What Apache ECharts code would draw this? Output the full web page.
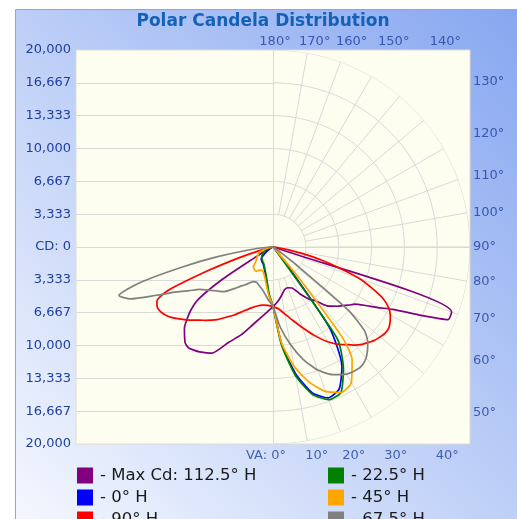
<!DOCTYPE html>
<html>
<head>
<meta charset="UTF-8" />
<title>Polar Candela Distribution</title>
<script src="https://cdn.jsdelivr.net/npm/echarts@6.0.0/dist/echarts.min.js"></script>
<style>
  html, body { margin: 0; padding: 0; background: #fff; }
</style>
</head>
<body>
<div id="chart" style="width: 517px; height: 519px"></div>
<script>
// vertical angles (0 = nadir, 90 = horizontal), shared by every plane
const vAngles = [0, 5, 10, 15, 20, 25, 30, 35, 37.5, 40, 42.5, 45, 47.5, 50, 52.5, 55, 57.5, 60, 62.5, 65, 67.5, 70, 72.5, 75, 77.5, 80, 85, 90];

// candela per plane, right half of the plot (H) and left half (H + 180)
const cd112 = [6050, 5550, 5000, 4500, 4400, 4600, 5500, 6500, 6800, 7400, 8100, 8500, 8900, 9250, 9700, 10100, 11000, 12300, 13700, 16300, 19250, 19300, 600, 300, 200, 100, 50, 0];
const cd292 = [6050, 6600, 7300, 8250, 9500, 10700, 12450, 13000, 13200, 13350, 13200, 12700, 12200, 11400, 10500, 9300, 6000, 2000, 1000, 500, 300, 200, 150, 100, 80, 50, 20, 0];
const cd0 = [6050, 9800, 13000, 15300, 16300, 15900, 14000, 10000, 3000, 600, 300, 200, 150, 120, 100, 100, 100, 80, 80, 60, 60, 50, 50, 40, 30, 20, 10, 0];
const cd180 = [6050, 4800, 3600, 2900, 2500, 2200, 2000, 1900, 1850, 1800, 1750, 1700, 1500, 1200, 900, 700, 500, 400, 300, 250, 200, 150, 120, 100, 80, 50, 20, 0];
const cd90 = [6050, 6300, 6900, 7700, 8700, 9900, 11100, 12100, 12500, 13000, 13400, 13700, 14000, 14200, 14350, 14350, 14100, 13750, 13200, 12300, 10800, 9300, 7000, 5000, 3000, 1500, 300, 0];
const cd270 = [6050, 5950, 6000, 6200, 6600, 7200, 8000, 8800, 9300, 9700, 10100, 10500, 11000, 11500, 12000, 12500, 12900, 13150, 13250, 13000, 11500, 7000, 3500, 1500, 700, 400, 100, 0];
const cd22 = [6050, 10000, 13300, 15500, 16500, 16300, 14300, 11400, 1000, 300, 200, 150, 120, 100, 100, 80, 80, 60, 60, 50, 50, 40, 40, 30, 20, 20, 10, 0];
const cd202 = [6050, 4700, 3500, 2800, 2400, 2100, 1900, 1800, 1750, 1700, 1650, 1600, 1550, 1500, 1400, 1300, 1200, 1100, 1000, 900, 800, 700, 550, 400, 300, 200, 100, 0];
const cd45 = [6050, 9700, 12300, 14200, 15600, 16300, 15900, 14000, 11500, 4000, 700, 300, 200, 150, 120, 100, 100, 80, 80, 60, 60, 50, 50, 40, 30, 20, 10, 0];
const cd225 = [6050, 4900, 3900, 3200, 2800, 2600, 2700, 3000, 3000, 2950, 2900, 2800, 2500, 2300, 2100, 2000, 1900, 1800, 1700, 1650, 1600, 1400, 1100, 800, 500, 300, 100, 0];
const cd67 = [6050, 8100, 10000, 11800, 13300, 14300, 14900, 15100, 15000, 14700, 14200, 13600, 12600, 10000, 3000, 800, 400, 300, 200, 150, 120, 100, 80, 60, 50, 40, 20, 0];
const cd247 = [6050, 5400, 4800, 4400, 4150, 3950, 4050, 4600, 4900, 5250, 5700, 6200, 6700, 7000, 7300, 7700, 8100, 8600, 9600, 10800, 12800, 15400, 16400, 14000, 9500, 5800, 1500, 0];

const planeNames = ['- Max Cd: 112.5° H', '- 0° H', '- 90° H', '- 22.5° H', '- 45° H', '- 67.5° H'];
const planeRight = [cd112, cd0, cd90, cd22, cd45, cd67];
const planeLeft = [cd292, cd180, cd270, cd202, cd225, cd247];
const planeColors = ['#800080', '#0000ff', '#ff0000', '#008000', '#ffa500', '#808080'];

const cdMax = 20000;
const cdSteps = 6;
const angleTicks = [0, 10, 20, 30, 40, 50, 60, 70, 80, 90, 100, 110, 120, 130, 140, 150, 160, 170, 180];

const gridColor = '#d9d9d9';
const labelColor = '#1f3f9c';
const font = 'DejaVu Sans';

function fmt(n) {
  return String(Math.round(n)).replace(/\B(?=(\d{3})+(?!\d))/g, ',');
}

function planeData(left, right) {
  const pts = [];
  for (let i = vAngles.length - 1; i >= 0; i--) pts.push([left[i], 360 - vAngles[i]]);
  for (let i = 0; i < vAngles.length; i++) pts.push([right[i], vAngles[i]]);
  return pts;
}

const rad = d => d * Math.PI / 180;

let series = [];

// semicircles on the right half
for (let k = 1; k <= cdSteps; k++) {
  const pts = [];
  for (let a = 0; a <= 180; a += 2) pts.push([k * cdMax / cdSteps, a]);
  series.push({
    type: 'line', coordinateSystem: 'polar', polarIndex: 0, data: pts,
    symbol: 'none', silent: true, z: 1, clip: false,
    lineStyle: { color: gridColor, width: 1 }
  });
}

// radial lines, from the first ring out to the plot border
angleTicks.filter(a => a > 0 && a < 180).forEach(a => {
  const s = Math.abs(Math.sin(rad(a))), c = Math.abs(Math.cos(rad(a)));
  series.push({
    type: 'line', coordinateSystem: 'polar', polarIndex: 0,
    data: [[cdMax / cdSteps, a], [cdMax / Math.max(s, c), a]],
    symbol: 'none', silent: true, z: 1, clip: false,
    lineStyle: { color: gridColor, width: 1 }
  });
});

// horizontal lines on the left half, plus the two centre lines
let hLines = [];
for (let k = -cdSteps + 1; k < cdSteps; k++) {
  if (k === 0) continue;
  hLines.push([{ coord: [-cdSteps, k] }, { coord: [0, k] }]);
}
hLines.push([{ coord: [-cdSteps, 0] }, { coord: [cdSteps, 0] }]);
hLines.push([{ coord: [0, -cdSteps] }, { coord: [0, cdSteps] }]);
series.push({
  type: 'line', xAxisIndex: 0, yAxisIndex: 0, data: [], silent: true, z: 1,
  markLine: {
    silent: true, symbol: ['none', 'none'], animation: false,
    label: { show: false },
    lineStyle: { color: gridColor, width: 1, type: 'solid' },
    emphasis: { disabled: true },
    data: hLines
  }
});

// angle labels where the radial lines meet the border
const angleLabels = angleTicks.map(a => {
  const s = Math.sin(rad(a)), c = Math.cos(rad(a));
  const t = cdSteps / Math.max(Math.abs(s), Math.abs(c));
  let position, offset;
  if (Math.abs(s) >= Math.abs(c) - 1e-9) { position = 'right'; offset = [0, 0]; }
  else if (c < 0) { position = 'top'; offset = [a === 180 ? 2 : 7, 0]; }
  else { position = 'bottom'; offset = [a === 0 ? -7 : 9, 0]; }
  return {
    value: [t * s, -t * c],
    name: a === 0 ? 'VA: 0°' : a + '°',
    label: { position: position, offset: offset, distance: position === 'right' ? 3 : (position === 'top' ? 2 : 5) }
  };
});
series.push({
  type: 'scatter', xAxisIndex: 0, yAxisIndex: 0, data: angleLabels,
  symbolSize: 0.1, itemStyle: { color: 'rgba(0,0,0,0)' }, silent: true, clip: false, z: 3,
  label: { show: true, formatter: '{b}', color: labelColor, fontSize: 13, fontFamily: font }
});

// the candela curves
planeNames.forEach((name, i) => {
  series.push({
    name: name, type: 'line', coordinateSystem: 'polar', polarIndex: 0,
    data: planeData(planeLeft[i], planeRight[i]),
    symbol: 'none', z: 10, clip: false, smooth: 0.2,
    itemStyle: { color: planeColors[i] },
    lineStyle: { color: planeColors[i], width: 1.7 }
  });
});

const legendBase = {
  top: 467, height: 120, orient: 'vertical', icon: 'rect',
  itemWidth: 16, itemHeight: 16, itemGap: 5, padding: 0, selectedMode: false,
  textStyle: { fontSize: 16.5, color: '#1a1a1a', lineHeight: 16, fontFamily: font, padding: [0, 0, 0, 2] }
};

const chart = echarts.init(document.getElementById('chart'));
chart.setOption({
  animation: false,
  textStyle: { fontFamily: font },
  graphic: [{
    type: 'rect', left: 15, top: 9, z: -10, silent: true,
    shape: { width: 510, height: 520 },
    style: {
      fill: new echarts.graphic.LinearGradient(0, 1, 1, 0, [
        { offset: 0, color: '#f5f8fe' },
        { offset: 1, color: '#86a6f0' }
      ]),
      stroke: '#88a6e6', lineWidth: 1
    }
  }],
  title: {
    text: 'Polar Candela Distribution',
    left: 263, top: 13, textAlign: 'center', padding: 0,
    textStyle: { color: '#1462b8', fontSize: 17, fontWeight: 'bold', fontFamily: font }
  },
  grid: {
    left: 76, top: 50, width: 394, height: 394, show: true,
    backgroundColor: '#fdfdf0', borderColor: '#dcdcd0', borderWidth: 1
  },
  xAxis: { type: 'value', min: -cdSteps, max: cdSteps, show: false },
  yAxis: {
    type: 'value', min: -cdSteps, max: cdSteps, interval: 1,
    axisLine: { show: false }, axisTick: { show: false }, splitLine: { show: false },
    axisLabel: {
      margin: 5, color: labelColor, fontSize: 13, fontFamily: font,
      formatter: v => Math.abs(v) < 1e-6 ? 'CD: 0' : fmt(Math.abs(v) * cdMax / cdSteps)
    }
  },
  polar: { center: [273, 247], radius: 197 },
  angleAxis: { type: 'value', min: 0, max: 360, startAngle: 270, clockwise: false, show: false },
  radiusAxis: { type: 'value', min: 0, max: cdMax, show: false },
  legend: [
    Object.assign({ left: 77, data: planeNames.slice(0, 3) }, legendBase),
    Object.assign({ left: 328, data: planeNames.slice(3) }, legendBase)
  ],
  series: series
});
</script>
</body>
</html>
